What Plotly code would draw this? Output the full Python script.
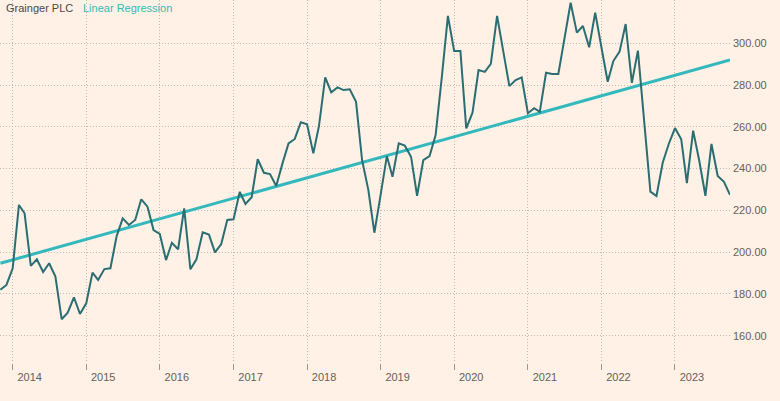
import plotly.graph_objects as go
import pandas as pd

# Monthly closing prices (GBp), Nov 2013 - Oct 2023
dates = pd.date_range("2013-11-01", periods=120, freq="MS")
price = [
    182.0, 184.3, 192.3, 222.6, 218.6, 193.4, 196.6, 190.5, 194.7, 188.3,
    167.9, 171.0, 178.4, 170.4, 175.5, 190.2, 186.7, 191.9, 192.3, 207.7,
    216.2, 213.0, 215.4, 225.3, 221.8, 210.6, 208.7, 196.2, 204.5, 201.4,
    221.0, 191.8, 196.6, 209.5, 208.4, 199.9, 203.9, 215.4, 215.7, 228.9,
    223.1, 226.3, 244.5, 238.0, 237.4, 231.7, 242.5, 252.1, 254.2, 262.2,
    261.2, 247.3, 260.4, 283.7, 276.5, 278.9, 277.6, 278.0, 272.0, 244.1,
    229.8, 209.3, 227.4, 246.0, 236.1, 252.1, 251.0, 245.7, 227.0, 244.1,
    246.0, 256.1, 284.0, 313.1, 296.3, 296.3, 259.3, 266.8, 287.2, 286.3,
    290.1, 313.1, 296.0, 279.5, 282.4, 283.7, 266.5, 268.9, 267.2, 285.9,
    285.3, 285.3, 302.0, 319.4, 305.1, 308.3, 298.1, 314.7, 298.0, 281.6,
    291.5, 296.0, 309.2, 281.1, 296.5, 263.0, 229.0, 226.9, 242.8, 251.8,
    259.4, 254.0, 233.0, 258.2, 244.0, 227.0, 251.8, 236.5, 233.7, 227.4,
]

# Linear regression line endpoints
reg_dates = [dates[0], dates[-1]]
reg_values = [194.7, 292.0]

y_ticks = [160, 180, 200, 220, 240, 260, 280, 300]
y_tick_labels = [f"{v:.2f}" for v in y_ticks]
x_ticks = [f"{y}-01-01" for y in range(2014, 2024)]
x_tick_labels = [str(y) for y in range(2014, 2024)]

BG = "#fff1e5"
PRICE_C = "#2a6e73"
REG_C = "#33b9bd"
TXT = "#66605c"
GRID = "#c4bab1"

fig = go.Figure()
fig.add_trace(go.Scatter(x=reg_dates, y=reg_values, mode="lines",
                         line=dict(color=REG_C, width=3), name="Linear Regression",
                         showlegend=False))
fig.add_trace(go.Scatter(x=dates, y=price, mode="lines",
                         line=dict(color=PRICE_C, width=2), name="Grainger PLC",
                         showlegend=False))

fig.update_layout(
    width=780, height=401,
    margin=dict(l=0, r=50, t=0, b=38),
    paper_bgcolor=BG, plot_bgcolor=BG,
    font=dict(family="Liberation Sans, Arial, sans-serif", size=11, color=TXT),
    showlegend=False,
    xaxis=dict(
        type="date",
        range=["2013-10-30", "2023-10-01"],
        tickvals=x_ticks, ticktext=x_tick_labels,
        showgrid=True, gridcolor=GRID, griddash="1px,2px", gridwidth=1,
        ticks="outside", ticklen=6, tickcolor="#9e958d", tickwidth=1,
        ticklabelshift=17, ticklabelstandoff=-2,
        zeroline=False, showline=False,
        tickfont=dict(size=11, color=TXT),
    ),
    yaxis=dict(
        side="right",
        range=[146.93, 320.73],
        tickvals=y_ticks, ticktext=y_tick_labels,
        showgrid=True, gridcolor=GRID, griddash="1px,2px", gridwidth=1,
        ticks="", zeroline=False, showline=False,
        ticklabelstandoff=2,
        tickfont=dict(size=11, color=TXT),
    ),
    annotations=[
        dict(xref="paper", yref="paper", x=0, y=1, xanchor="left", yanchor="top",
             xshift=4, yshift=0, showarrow=False, text="Grainger PLC",
             font=dict(size=11, color="#4d4845")),
        dict(xref="paper", yref="paper", x=0, y=1, xanchor="left", yanchor="top",
             xshift=81, yshift=0, showarrow=False, text="Linear Regression",
             font=dict(size=11, color=REG_C)),
    ],
)

fig.write_html("out.html",
               config={"displayModeBar": False},
               post_script="document.body.style.margin='0';document.body.style.padding='0';")
